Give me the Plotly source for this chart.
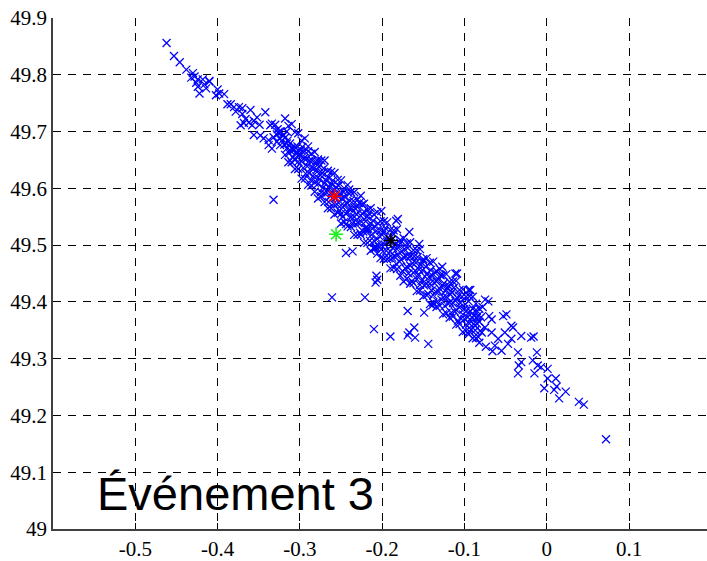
import plotly.graph_objects as go

# Position estimates (x, y) for the event, grouped along the track
upper_tail = [
    (-0.462, 49.856), (-0.453, 49.833), (-0.446, 49.822), (-0.438, 49.809),
    (-0.430, 49.803), (-0.428, 49.797), (-0.432, 49.795), (-0.424, 49.792),
    (-0.418, 49.792), (-0.426, 49.786), (-0.410, 49.788), (-0.416, 49.783),
    (-0.424, 49.779), (-0.414, 49.776), (-0.422, 49.767), (-0.400, 49.774),
    (-0.398, 49.767), (-0.402, 49.764), (-0.392, 49.766), (-0.388, 49.748),
    (-0.384, 49.748), (-0.380, 49.743), (-0.378, 49.735), (-0.374, 49.743),
    (-0.370, 49.741), (-0.360, 49.738), (-0.366, 49.722), (-0.368, 49.715),
    (-0.362, 49.716), (-0.356, 49.719), (-0.358, 49.711), (-0.352, 49.725),
    (-0.349, 49.712), (-0.342, 49.734), (-0.336, 49.711), (-0.356, 49.694),
    (-0.348, 49.693), (-0.344, 49.688), (-0.338, 49.685), (-0.332, 49.690),
    (-0.326, 49.697), (-0.320, 49.693), (-0.338, 49.676), (-0.334, 49.670),
    (-0.328, 49.682), (-0.324, 49.676), (-0.316, 49.679), (-0.312, 49.667),
    (-0.306, 49.673), (-0.302, 49.667), (-0.304, 49.661), (-0.300, 49.659),
    (-0.410, 49.789), (-0.370, 49.731), (-0.372, 49.711), (-0.334, 49.714),
    (-0.330, 49.712), (-0.328, 49.695), (-0.327, 49.704), (-0.325, 49.688),
    (-0.323, 49.700), (-0.322, 49.684), (-0.320, 49.694), (-0.319, 49.677),
    (-0.318, 49.689), (-0.316, 49.670), (-0.315, 49.684), (-0.313, 49.662),
    (-0.312, 49.679), (-0.310, 49.671), (-0.309, 49.655), (-0.307, 49.668),
    (-0.306, 49.650), (-0.305, 49.662), (-0.303, 49.674), (-0.302, 49.647),
    (-0.301, 49.660), (-0.326, 49.699), (-0.316, 49.700),
]

main_band = [
    (-0.299, 49.668), (-0.298, 49.647), (-0.297, 49.673), (-0.296, 49.636),
    (-0.295, 49.653), (-0.294, 49.665), (-0.293, 49.626), (-0.292, 49.652),
    (-0.291, 49.639), (-0.290, 49.665), (-0.289, 49.627), (-0.288, 49.649),
    (-0.287, 49.614), (-0.286, 49.636), (-0.285, 49.649), (-0.284, 49.622),
    (-0.283, 49.635), (-0.282, 49.610), (-0.281, 49.647), (-0.280, 49.621),
    (-0.2795, 49.633), (-0.278, 49.608), (-0.277, 49.638), (-0.276, 49.616),
    (-0.275, 49.623), (-0.274, 49.593), (-0.273, 49.627), (-0.272, 49.601),
    (-0.271, 49.635), (-0.270, 49.609), (-0.269, 49.590), (-0.268, 49.614),
    (-0.267, 49.597), (-0.266, 49.620), (-0.265, 49.576), (-0.264, 49.602),
    (-0.263, 49.586), (-0.262, 49.608), (-0.261, 49.593), (-0.260, 49.614),
    (-0.259, 49.573), (-0.258, 49.597), (-0.257, 49.583), (-0.256, 49.602),
    (-0.255, 49.572), (-0.254, 49.586), (-0.253, 49.605), (-0.252, 49.561),
    (-0.251, 49.590), (-0.250, 49.570), (-0.249, 49.582), (-0.248, 49.550),
    (-0.247, 49.593), (-0.246, 49.569), (-0.245, 49.584), (-0.244, 49.555),
    (-0.243, 49.575), (-0.242, 49.558), (-0.241, 49.592), (-0.240, 49.564),
    (-0.239, 49.578), (-0.238, 49.549), (-0.237, 49.564), (-0.236, 49.538),
    (-0.235, 49.578), (-0.234, 49.550), (-0.233, 49.565), (-0.232, 49.537),
    (-0.231, 49.554), (-0.230, 49.567), (-0.229, 49.539), (-0.228, 49.574),
    (-0.227, 49.522), (-0.226, 49.552), (-0.225, 49.541), (-0.224, 49.555),
    (-0.223, 49.524), (-0.222, 49.559), (-0.221, 49.530), (-0.220, 49.542),
    (-0.219, 49.523), (-0.218, 49.550), (-0.217, 49.529), (-0.216, 49.556),
    (-0.215, 49.508), (-0.214, 49.538), (-0.213, 49.518), (-0.212, 49.529),
    (-0.211, 49.543), (-0.210, 49.508), (-0.209, 49.533), (-0.208, 49.495),
    (-0.207, 49.525), (-0.206, 49.511), (-0.205, 49.538), (-0.204, 49.497),
    (-0.203, 49.515), (-0.202, 49.526), (-0.201, 49.500), (-0.200, 49.518),
    (-0.199, 49.489), (-0.198, 49.524), (-0.197, 49.501), (-0.196, 49.530),
    (-0.195, 49.490), (-0.194, 49.506), (-0.193, 49.513), (-0.192, 49.477),
    (-0.191, 49.507), (-0.190, 49.489), (-0.189, 49.515), (-0.188, 49.478),
    (-0.187, 49.495), (-0.186, 49.519), (-0.185, 49.480), (-0.184, 49.502),
    (-0.183, 49.467), (-0.182, 49.493), (-0.181, 49.483), (-0.180, 49.499),
    (-0.179, 49.471), (-0.178, 49.504), (-0.177, 49.474), (-0.176, 49.489),
    (-0.175, 49.454), (-0.174, 49.479), (-0.173, 49.493), (-0.172, 49.459),
    (-0.171, 49.480), (-0.170, 49.462), (-0.169, 49.495), (-0.168, 49.450),
    (-0.167, 49.480), (-0.166, 49.464), (-0.165, 49.481), (-0.164, 49.437),
    (-0.163, 49.468), (-0.162, 49.451), (-0.161, 49.480), (-0.160, 49.455),
    (-0.159, 49.469), (-0.158, 49.440), (-0.157, 49.479), (-0.156, 49.447),
    (-0.155, 49.457), (-0.154, 49.430), (-0.153, 49.465), (-0.152, 49.437),
    (-0.151, 49.456), (-0.150, 49.472), (-0.149, 49.429), (-0.148, 49.445),
    (-0.147, 49.462), (-0.146, 49.432), (-0.145, 49.450), (-0.144, 49.414),
    (-0.143, 49.444), (-0.142, 49.432), (-0.141, 49.456), (-0.140, 49.420),
    (-0.139, 49.446), (-0.138, 49.412), (-0.137, 49.434), (-0.136, 49.452),
    (-0.135, 49.418), (-0.134, 49.436), (-0.133, 49.401), (-0.132, 49.440),
    (-0.131, 49.418), (-0.130, 49.423), (-0.129, 49.447), (-0.128, 49.404),
    (-0.127, 49.429), (-0.126, 49.408), (-0.125, 49.433), (-0.124, 49.393),
    (-0.123, 49.419), (-0.122, 49.409), (-0.121, 49.424), (-0.120, 49.397),
    (-0.119, 49.428), (-0.118, 49.399), (-0.117, 49.413), (-0.116, 49.381),
    (-0.115, 49.417), (-0.114, 49.398), (-0.113, 49.425), (-0.112, 49.383),
    (-0.111, 49.402), (-0.110, 49.386), (-0.109, 49.407), (-0.108, 49.367),
    (-0.107, 49.411), (-0.106, 49.390), (-0.105, 49.398), (-0.104, 49.370),
    (-0.103, 49.409), (-0.102, 49.378), (-0.101, 49.387), (-0.100, 49.370),
    (-0.099, 49.396), (-0.098, 49.360), (-0.097, 49.385), (-0.096, 49.373),
    (-0.095, 49.401), (-0.094, 49.362), (-0.093, 49.384), (-0.092, 49.351),
    (-0.091, 49.373), (-0.090, 49.388), (-0.089, 49.361), (-0.088, 49.375),
    (-0.087, 49.350), (-0.086, 49.386), (-0.085, 49.362), (-0.084, 49.375),
    (-0.083, 49.338), (-0.082, 49.365), (-0.081, 49.349), (-0.080, 49.373),
    # points sitting just above / below the main track
    (-0.201, 49.560), (-0.183, 49.543), (-0.167, 49.523), (-0.155, 49.502),
    (-0.127, 49.462), (-0.109, 49.450), (-0.095, 49.421), (-0.075, 49.404),
    (-0.278, 49.647), (-0.240, 49.598), (-0.224, 49.572), (-0.181, 49.546),
    (-0.250, 49.555), (-0.244, 49.537), (-0.218, 49.528), (-0.208, 49.497),
    (-0.210, 49.494), (-0.111, 49.450), (-0.093, 49.421), (-0.071, 49.401),
]

# Outer fringe of the track, above and below its centre
band_fringe = [
    (-0.318, 49.723), (-0.318, 49.659), (-0.314, 49.710), (-0.314, 49.646),
    (-0.310, 49.713), (-0.310, 49.646), (-0.306, 49.699), (-0.306, 49.634),
    (-0.302, 49.697), (-0.302, 49.634), (-0.298, 49.684), (-0.298, 49.617),
    (-0.294, 49.688), (-0.294, 49.617), (-0.290, 49.674), (-0.290, 49.606),
    (-0.286, 49.661), (-0.286, 49.605), (-0.282, 49.664), (-0.282, 49.594),
    (-0.278, 49.651), (-0.278, 49.582), (-0.274, 49.649), (-0.274, 49.586),
    (-0.270, 49.649), (-0.270, 49.576), (-0.266, 49.631), (-0.266, 49.565),
    (-0.262, 49.629), (-0.262, 49.565), (-0.258, 49.627), (-0.258, 49.554),
    (-0.254, 49.615), (-0.254, 49.557), (-0.250, 49.614), (-0.250, 49.538),
    (-0.246, 49.600), (-0.246, 49.541), (-0.242, 49.606), (-0.242, 49.533),
    (-0.238, 49.593), (-0.238, 49.532), (-0.234, 49.593), (-0.234, 49.518),
    (-0.230, 49.580), (-0.230, 49.518), (-0.226, 49.587), (-0.226, 49.518),
    (-0.222, 49.573), (-0.222, 49.504), (-0.218, 49.562), (-0.218, 49.504),
    (-0.214, 49.565), (-0.214, 49.490), (-0.210, 49.554), (-0.210, 49.495),
    (-0.206, 49.558), (-0.206, 49.485), (-0.202, 49.542), (-0.202, 49.477),
    (-0.198, 49.542), (-0.198, 49.476), (-0.194, 49.540), (-0.194, 49.475),
    (-0.190, 49.527), (-0.190, 49.459), (-0.186, 49.526), (-0.186, 49.460),
    (-0.182, 49.528), (-0.182, 49.458), (-0.178, 49.509), (-0.178, 49.446),
    (-0.174, 49.512), (-0.174, 49.436), (-0.170, 49.503), (-0.170, 49.441),
    (-0.166, 49.505), (-0.166, 49.432), (-0.162, 49.491), (-0.162, 49.433),
    (-0.158, 49.491), (-0.158, 49.419), (-0.154, 49.493), (-0.154, 49.420),
    (-0.150, 49.475), (-0.150, 49.410), (-0.146, 49.477), (-0.146, 49.412),
    (-0.142, 49.469), (-0.142, 49.396), (-0.138, 49.471), (-0.138, 49.399),
    (-0.134, 49.454), (-0.134, 49.391), (-0.130, 49.458), (-0.130, 49.393),
    (-0.126, 49.447), (-0.126, 49.378), (-0.122, 49.449), (-0.122, 49.380),
    (-0.118, 49.435), (-0.118, 49.372), (-0.114, 49.436), (-0.114, 49.374),
    (-0.110, 49.437), (-0.110, 49.360), (-0.106, 49.421), (-0.106, 49.361),
    (-0.102, 49.422), (-0.102, 49.347), (-0.098, 49.409), (-0.098, 49.349),
    (-0.094, 49.410), (-0.094, 49.348), (-0.090, 49.409), (-0.090, 49.336),
    (-0.086, 49.397), (-0.086, 49.336), (-0.082, 49.388), (-0.082, 49.328),
    (-0.078, 49.391), (-0.074, 49.321), (-0.070, 49.375), (-0.066, 49.313),
]

lower_tail = [
    (-0.067, 49.369), (-0.053, 49.375), (-0.049, 49.378), (-0.043, 49.358),
    (-0.051, 49.346), (-0.063, 49.323), (-0.055, 49.314), (-0.047, 49.326),
    (-0.043, 49.335), (-0.067, 49.346), (-0.075, 49.355), (-0.079, 49.346),
    (-0.059, 49.335), (-0.085, 49.372), (-0.087, 49.358), (-0.095, 49.343),
    (-0.041, 49.355), (-0.031, 49.340), (-0.019, 49.337), (-0.016, 49.339),
    (-0.035, 49.311), (-0.031, 49.294), (-0.034, 49.288), (-0.012, 49.311),
    (-0.017, 49.297), (-0.035, 49.274), (-0.015, 49.274), (-0.011, 49.288),
    (-0.007, 49.285), (0.001, 49.282), (0.001, 49.265), (0.011, 49.265),
    (-0.003, 49.248), (0.009, 49.245), (0.012, 49.251), (0.023, 49.242),
    (0.015, 49.230), (0.039, 49.224), (0.045, 49.219), (0.072, 49.158),
]

outliers = [
    (-0.332, 49.580), (-0.244, 49.486), (-0.236, 49.489), (-0.207, 49.446),
    (-0.206, 49.439), (-0.208, 49.434), (-0.261, 49.408), (-0.221, 49.408),
    (-0.210, 49.352), (-0.190, 49.339), (-0.169, 49.384), (-0.149, 49.381),
    (-0.139, 49.394), (-0.167, 49.346), (-0.161, 49.355), (-0.169, 49.341),
    (-0.160, 49.337), (-0.144, 49.326),
]

# Reference positions drawn as asterisks
star_x = [-0.258, -0.256, -0.1895]
star_y = [49.586, 49.519, 49.508]
star_colors = ["#ff0000", "#22ee22", "#000000"]

x_ticks = [-0.5, -0.4, -0.3, -0.2, -0.1, 0.0, 0.1]
x_tick_text = ["-0.5", "-0.4", "-0.3", "-0.2", "-0.1", "0", "0.1"]
y_ticks = [49.0, 49.1, 49.2, 49.3, 49.4, 49.5, 49.6, 49.7, 49.8, 49.9]
y_tick_text = ["49", "49.1", "49.2", "49.3", "49.4", "49.5", "49.6", "49.7", "49.8", "49.9"]

label_text = "Événement 3"

all_pts = upper_tail + main_band + band_fringe + lower_tail + outliers
px = [p[0] for p in all_pts]
py = [p[1] for p in all_pts]

fig = go.Figure()
fig.add_trace(go.Scatter(
    x=px, y=py, mode="markers",
    marker=dict(symbol="x-thin", size=8, color="#0000ff",
                line=dict(color="#0000ff", width=1.25)),
    hoverinfo="skip",
))
fig.add_trace(go.Scatter(
    x=star_x, y=star_y, mode="markers",
    marker=dict(symbol="asterisk-open", size=12, color=star_colors,
                line=dict(color=star_colors, width=1.6)),
    hoverinfo="skip",
))

grid_common = dict(
    showgrid=True, gridcolor="#000000", gridwidth=1, griddash="8px,7px",
    zeroline=False, ticks="inside", ticklen=6, tickcolor="#000000",
    tickfont=dict(family="Liberation Serif, Times New Roman, serif", size=21,
                  color="#000000"),
    showline=True, linecolor="#404040", linewidth=1.5, mirror=False,
)

fig.update_layout(
    width=707, height=561,
    margin=dict(l=53, r=0, t=18, b=25, pad=0),
    paper_bgcolor="#ffffff", plot_bgcolor="#ffffff",
    showlegend=False,
    xaxis=dict(range=[-0.6, 0.1947], tickmode="array", tickvals=x_ticks,
               ticktext=x_tick_text, **grid_common),
    yaxis=dict(range=[49.0, 49.9], tickmode="array", tickvals=y_ticks,
               ticktext=y_tick_text, **grid_common),
    annotations=[dict(
        x=-0.549, y=49.063, xref="x", yref="y", text=label_text,
        showarrow=False, xanchor="left", yanchor="middle",
        font=dict(family="Liberation Sans, Arial, sans-serif", size=47,
                  color="#000000"),
    )],
)

fig.write_html("out.html", config={"displayModeBar": False})
